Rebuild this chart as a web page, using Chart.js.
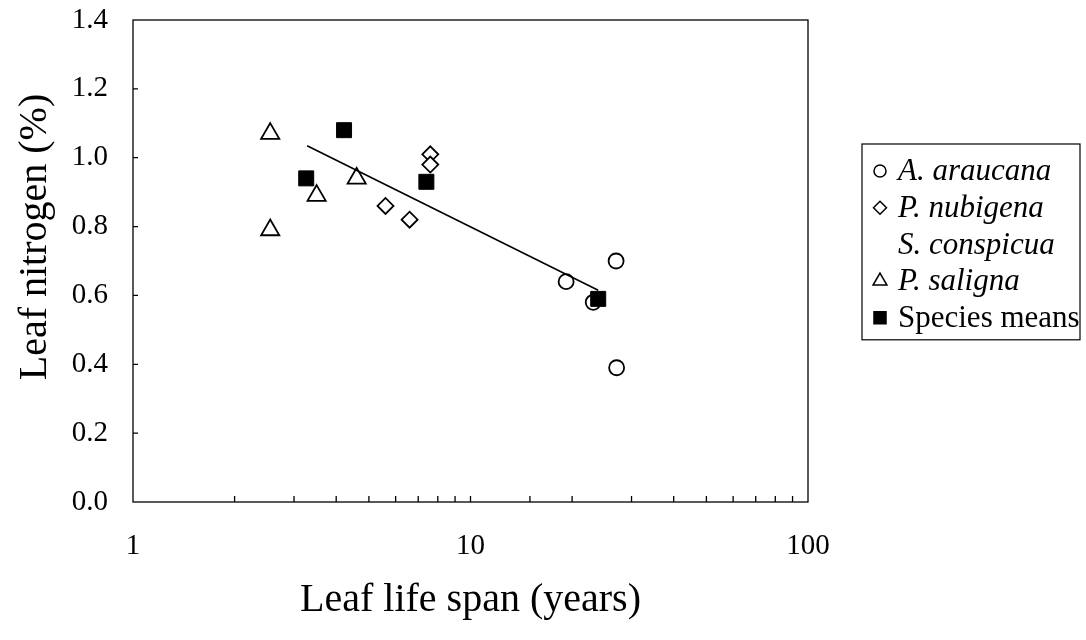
<!DOCTYPE html>
<html>
<head>
<meta charset="utf-8">
<script src="https://cdn.jsdelivr.net/npm/chart.js@4/dist/chart.umd.min.js"></script>
<style>
  html, body { margin: 0; padding: 0; background: #fff; }
  #wrap { width: 1086px; height: 640px; }
</style>
</head>
<body>
<div id="wrap"><canvas id="c" width="1086" height="640"></canvas></div>
<script>
// ---- data ----
const araucanaX = [19.2, 27.0, 23.1, 27.1];
const araucanaY = [0.64, 0.70, 0.58, 0.39];
const nubigenaX = [5.6, 6.6, 7.6, 7.6];
const nubigenaY = [0.86, 0.82, 1.01, 0.98];
const conspicuaX = [];
const conspicuaY = [];
const salignaX = [2.55, 2.55, 3.5, 4.6];
const salignaY = [1.07, 0.79, 0.89, 0.94];
const meansX = [3.26, 4.22, 7.4, 23.9];
const meansY = [0.94, 1.08, 0.93, 0.59];
const fitX = [3.28, 23.9];
const fitY = [1.035, 0.615];
const yTickValues = [0.0, 0.2, 0.4, 0.6, 0.8, 1.0, 1.2, 1.4];
const xTickLabels = [1, 10, 100];
const seriesNames = ['A. araucana', 'P. nubigena', 'S. conspicua', 'P. saligna', 'Species means'];
const xTitle = 'Leaf life span (years)';
const yTitle = 'Leaf nitrogen (%)';

const pts = (xs, ys) => xs.map((x, i) => ({ x: x, y: ys[i] }));
const SERIF = "'Liberation Serif', 'Times New Roman', serif";

const datasets = [
  { label: 'fit', type: 'line', data: pts(fitX, fitY), borderColor: '#000', borderWidth: 1.6,
    pointRadius: 0, showLine: true, fill: false, inLegend: false, order: 0 },
  { label: seriesNames[0], data: pts(araucanaX, araucanaY), pointStyle: 'circle', pointRadius: 7.5,
    backgroundColor: '#fff', borderColor: '#000', pointBorderWidth: 1.8, italic: true, legendRadius: 6, order: 2 },
  { label: seriesNames[1], data: pts(nubigenaX, nubigenaY), pointStyle: 'rectRot', pointRadius: 8,
    backgroundColor: '#fff', borderColor: '#000', pointBorderWidth: 1.8, italic: true, legendRadius: 6.5, order: 2 },
  { label: seriesNames[2], data: pts(conspicuaX, conspicuaY), pointStyle: false, pointRadius: 0,
    backgroundColor: '#fff', borderColor: '#000', italic: true, legendRadius: 0, order: 2 },
  { label: seriesNames[3], data: pts(salignaX, salignaY), pointStyle: 'triangle', pointRadius: 10.5,
    backgroundColor: '#fff', borderColor: '#000', pointBorderWidth: 1.8, italic: true, legendRadius: 8, order: 2 },
  { label: seriesNames[4], data: pts(meansX, meansY), pointStyle: 'rect', pointRadius: 10.6,
    backgroundColor: '#000', borderColor: '#000', pointBorderWidth: 1, italic: false, legendRadius: 8.5, order: 1 }
];

const PLOT = { left: 133, right: 808, top: 20, bottom: 502 };

const framePlugin = {
  id: 'frame',
  afterDraw(chart) {
    const ctx = chart.ctx;
    const a = chart.chartArea;
    ctx.save();
    ctx.strokeStyle = '#000';
    ctx.lineWidth = 1.3;
    ctx.strokeRect(a.left, a.top, a.right - a.left, a.bottom - a.top);
    // inside tick marks, positioned by the library scales
    const xs = chart.scales.x, ys = chart.scales.y;
    ctx.beginPath();
    xs.ticks.forEach(t => {
      const px = xs.getPixelForValue(t.value);
      if (px <= a.left + 1 || px >= a.right - 1) return;
      ctx.moveTo(px, a.bottom);
      ctx.lineTo(px, a.bottom - 6);
    });
    ys.ticks.forEach(t => {
      const py = ys.getPixelForValue(t.value);
      if (py <= a.top + 1 || py >= a.bottom - 1) return;
      ctx.moveTo(a.left, py);
      ctx.lineTo(a.left + 5, py);
    });
    ctx.stroke();

    // y axis title (offset upward as in the reference)
    ctx.save();
    ctx.translate(35, 237);
    ctx.rotate(-Math.PI / 2);
    ctx.font = '40px ' + SERIF;
    ctx.textAlign = 'center';
    ctx.textBaseline = 'middle';
    ctx.fillStyle = '#000';
    ctx.fillText(yTitle, 0, 0);
    ctx.restore();

    // legend
    const L = { left: 862, top: 144, right: 1080, rowH: 36.7, first: 171 };
    const items = chart.data.datasets.filter(d => d.inLegend !== false);
    const bottom = L.first + L.rowH * (items.length - 1) + 22;
    ctx.lineWidth = 1.2;
    ctx.strokeStyle = '#000';
    ctx.strokeRect(L.left, L.top, L.right - L.left, bottom - L.top);
    ctx.textBaseline = 'middle';
    ctx.textAlign = 'left';
    items.forEach((d, i) => {
      const cy = L.first + L.rowH * i;
      const mx = 880;
      if (d.pointStyle) {
        ctx.fillStyle = d.backgroundColor;
        ctx.strokeStyle = '#000';
        ctx.lineWidth = 1.5;
        Chart.helpers.drawPoint(ctx, { pointStyle: d.pointStyle, radius: d.legendRadius, borderWidth: 1.5, rotation: 0 }, mx, cy);
      }
      ctx.fillStyle = '#000';
      ctx.font = (d.italic ? 'italic ' : '') + '31px ' + SERIF;
      ctx.fillText(d.label, 898, cy + 1);
    });
    ctx.restore();
  }
};

new Chart(document.getElementById('c'), {
  type: 'scatter',
  data: { datasets: datasets },
  options: {
    responsive: false,
    animation: false,
    layout: { padding: { left: 0, top: PLOT.top, right: 1086 - PLOT.right, bottom: 0 } },
    plugins: { legend: { display: false }, tooltip: { enabled: false } },
    scales: {
      x: {
        type: 'logarithmic', min: 1, max: 100,
        border: { display: false },
        grid: { display: false, drawTicks: false },
        afterFit(s) { s.height = 640 - PLOT.bottom; s.paddingLeft = 0; s.paddingRight = 0; },
        ticks: {
          autoSkip: false, maxRotation: 0, padding: 27, color: '#000',
          font: { family: SERIF, size: 29 },
          callback: (v) => xTickLabels.includes(v) ? String(v) : ''
        },
        title: { display: true, text: xTitle, color: '#000',
          font: { family: SERIF, size: 40 }, padding: { top: 0, bottom: 16 } }
      },
      y: {
        min: 0, max: 1.4,
        border: { display: false },
        grid: { display: false, drawTicks: false },
        afterFit(s) { s.width = PLOT.left; s.paddingTop = 0; s.paddingBottom = 0; },
        afterBuildTicks(s) { s.ticks = yTickValues.map(v => ({ value: v })); },
        ticks: {
          padding: 25, color: '#000',
          font: { family: SERIF, size: 29 },
          callback: (v) => Number(v).toFixed(1)
        },
        title: { display: false }
      }
    }
  },
  plugins: [framePlugin]
});
</script>
</body>
</html>
